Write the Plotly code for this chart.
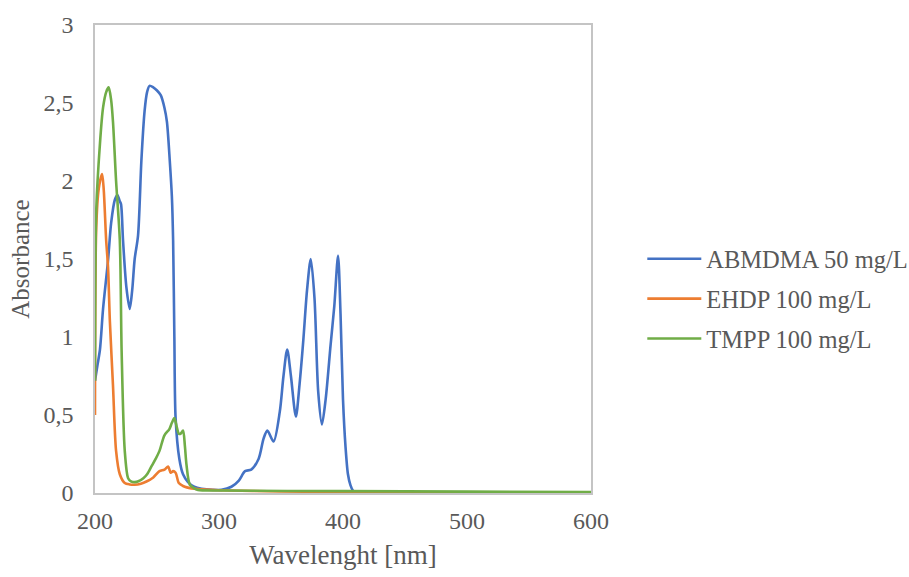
import plotly.graph_objects as go

# ABMDMA 50 mg/L absorbance spectrum
abmdma_nm = [200, 202, 204, 206.5, 210.5, 213, 216, 218, 220, 221, 222.6, 225.3, 228, 230, 232,
             234.7, 237.4, 240, 242, 244, 247, 250, 253, 256, 258, 260.3, 262, 263, 264, 265,
             268, 271, 275, 280, 286, 295, 302, 310, 316, 321, 326, 332, 336, 339, 344, 349,
             352, 355, 358, 362, 365, 368, 371, 374, 377, 380, 383, 386, 390, 393, 396, 398,
             400, 402, 404, 406, 408, 411, 420, 450, 500, 600]
abmdma_abs = [0.72, 0.82, 0.92, 1.18, 1.49, 1.73, 1.88, 1.91, 1.87, 1.85, 1.62, 1.32, 1.18, 1.30, 1.50,
              1.65, 2.13, 2.45, 2.57, 2.61, 2.60, 2.58, 2.55, 2.47, 2.38, 2.13, 1.90, 1.62, 1.00, 0.48,
              0.22, 0.12, 0.07, 0.04, 0.027, 0.02, 0.02, 0.04, 0.08, 0.14, 0.15, 0.22, 0.35, 0.40, 0.33, 0.52,
              0.75, 0.92, 0.75, 0.49, 0.70, 0.98, 1.30, 1.50, 1.25, 0.65, 0.44, 0.60, 0.95, 1.20, 1.52, 1.15,
              0.60, 0.30, 0.12, 0.05, 0.015, 0.0, -0.004, -0.005, -0.004, -0.003]

# EHDP 100 mg/L absorbance spectrum
ehdp_nm = [200, 201, 203, 205.7, 207, 209, 210.5, 212, 214.5, 217, 220, 224, 228, 232, 237,
           241.5, 247, 252, 256, 259, 261, 263, 265, 267.6, 271, 274, 283, 300, 350, 400,
           450, 500, 600]
ehdp_abs = [0.50, 1.70, 1.95, 2.045, 1.95, 1.62, 1.45, 1.10, 0.69, 0.27, 0.12, 0.064, 0.055, 0.053, 0.06,
            0.074, 0.10, 0.14, 0.15, 0.17, 0.13, 0.14, 0.13, 0.064, 0.045, 0.036, 0.025, 0.018, 0.01, 0.006,
            0.003, 0.002, 0.0]

# TMPP 100 mg/L absorbance spectrum
tmpp_nm = [200, 201, 204, 206.5, 209, 211, 213, 214.5, 217, 220, 221.5, 224, 226.7, 229, 232,
           235, 239, 242, 245.5, 249, 252, 256, 260, 262, 264, 266, 267.6, 269, 271, 272.5,
           273.8, 276.5, 280, 283, 300, 400, 500, 600]
tmpp_abs = [0.72, 1.81, 2.24, 2.47, 2.57, 2.60, 2.52, 2.38, 2.00, 1.62, 0.90, 0.27, 0.095, 0.075, 0.07,
            0.075, 0.095, 0.12, 0.17, 0.22, 0.27, 0.37, 0.41, 0.45, 0.48, 0.42, 0.38, 0.38, 0.40, 0.30,
            0.18, 0.053, 0.03, 0.02, 0.016, 0.012, 0.009, 0.006]

series = [
    ("ABMDMA 50 mg/L", abmdma_nm, abmdma_abs, "#4472C4"),
    ("EHDP 100 mg/L", ehdp_nm, ehdp_abs, "#ED7D31"),
    ("TMPP 100 mg/L", tmpp_nm, tmpp_abs, "#70AD47"),
]

x_ticks = [200, 300, 400, 500, 600]
y_ticks = [0, 0.5, 1, 1.5, 2, 2.5, 3]

text_color = "#595959"
font_family = "Liberation Serif"

fig = go.Figure()
for i, (name, xs, ys, color) in enumerate(series):
    fig.add_trace(go.Scatter(
        x=xs, y=ys, name=name, mode="lines",
        line=dict(color=color, width=2.6, shape="spline", smoothing=0.8),
        legendgroup=f"g{i}",
    ))

frame = "#c4c4c4"
fig.update_layout(
    width=909, height=577,
    margin=dict(l=95, r=318, t=22, b=83),
    paper_bgcolor="white", plot_bgcolor="white",
    separators=", ",
    font=dict(family=font_family, color=text_color, size=24),
    showlegend=True,
    legend=dict(
        xref="container", yref="container",
        x=0.7066, xanchor="left", y=0.482, yanchor="middle",
        font=dict(family=font_family, size=24.5, color=text_color),
        tracegroupgap=5, itemwidth=54,
        bgcolor="rgba(0,0,0,0)",
    ),
    xaxis=dict(
        range=[200, 600], tickvals=x_ticks, showgrid=False, zeroline=False,
        showline=True, mirror=True, linecolor=frame, linewidth=1.5,
        ticks="outside", ticklen=5, tickcolor="rgba(0,0,0,0)",
        tickfont=dict(family=font_family, size=24),
        title=dict(text="Wavelenght [nm]", font=dict(family=font_family, size=27), standoff=13),
    ),
    yaxis=dict(
        range=[0, 3], tickvals=y_ticks, showgrid=False, zeroline=False,
        showline=True, mirror=True, linecolor=frame, linewidth=1.5,
        ticks="outside", ticklen=15, tickcolor="rgba(0,0,0,0)",
        tickfont=dict(family=font_family, size=24),
        title=dict(text="Absorbance", font=dict(family=font_family, size=25), standoff=7),
    ),
)

fig.write_html("out.html")
